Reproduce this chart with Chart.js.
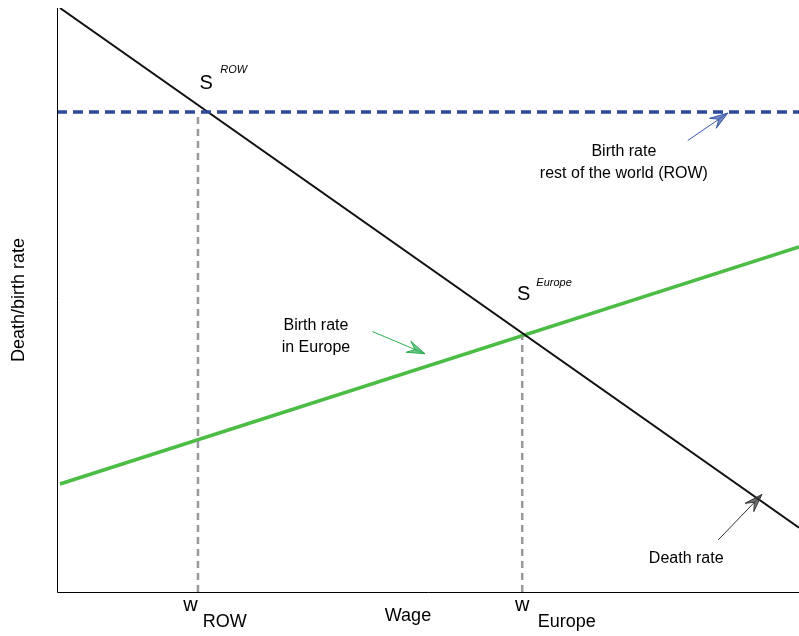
<!DOCTYPE html>
<html><head><meta charset="utf-8">
<script src="https://cdn.jsdelivr.net/npm/chart.js@4"></script>
<style>html,body{margin:0;padding:0;background:#fff}#w{width:799px;height:636px}</style>
</head><body><div id="w"><canvas id="c"></canvas></div>
<script>
const deathRate=[{x:0.04,y:10},{x:10,y:1.1}];
const birthROW=[{x:0,y:8.22},{x:10,y:8.22}];
const birthEurope=[{x:0.04,y:1.85},{x:10,y:5.91}];
const wROW=[{x:1.9,y:0},{x:1.9,y:8.22}];
const wEurope=[{x:6.27,y:0},{x:6.27,y:4.38}];
const F='"Liberation Sans", Arial, sans-serif';
const ann={
 id:'ann',
 afterDraw(ch){
  const c=ch.ctx,xs=ch.scales.x,ys=ch.scales.y,a=ch.chartArea;
  const X=v=>xs.getPixelForValue(v),Y=v=>ys.getPixelForValue(v);
  c.save();
  c.strokeStyle='#000';c.lineWidth=1;
  c.beginPath();c.moveTo(a.left+0.5,a.top);c.lineTo(a.left+0.5,a.bottom+0.5);c.lineTo(a.right,a.bottom+0.5);c.stroke();
  c.fillStyle='#000';c.textBaseline='alphabetic';
  function t(s,x,y,size,align){c.font=size+'px '+F;c.textAlign=align||'left';c.fillText(s,x,y);}
  t('S',X(1.92),Y(8.62),20);
  c.font='italic 11px '+F;c.textAlign='left';c.fillText('ROW',X(2.2),Y(8.88));
  t('S',X(6.2),Y(5.0),20);
  c.font='italic 11px '+F;c.fillText('Europe',X(6.46),Y(5.24));
  t('Birth rate',X(7.64),Y(7.47),16,'center');
  t('rest of the world (ROW)',X(7.64),Y(7.09),16,'center');
  t('Birth rate',X(3.49),Y(4.49),16,'center');
  t('in Europe',X(3.49),Y(4.11),16,'center');
  t('Death rate',X(8.48),Y(0.5),16,'center');
  function arrow(x1,y1,x2,y2,col){
   const px1=X(x1),py1=Y(y1),px2=X(x2),py2=Y(y2);
   const an=Math.atan2(py2-py1,px2-px1),L=18,W=6;
   c.strokeStyle=col;c.lineWidth=1;c.beginPath();c.moveTo(px1,py1);c.lineTo(px2,py2);c.stroke();
   const bx=px2-L*Math.cos(an),by=py2-L*Math.sin(an);
   c.beginPath();c.moveTo(px2,py2);
   c.lineTo(bx+W*Math.sin(an),by-W*Math.cos(an));
   c.lineTo(px2-L*0.6*Math.cos(an),py2-L*0.6*Math.sin(an));
   c.lineTo(bx-W*Math.sin(an),by+W*Math.cos(an));c.closePath();
   c.fillStyle=col;c.globalAlpha=0.7;c.fill();c.globalAlpha=1;c.stroke();
  }
  arrow(8.5,7.73,9.04,8.2,'#3a56a8');
  arrow(4.25,4.46,4.96,4.08,'#2eae52');
  arrow(8.91,0.89,9.5,1.67,'#333');
  c.fillStyle='#000';
  t('w',X(1.8),Y(-0.32),20,'center');
  t('ROW',X(2.26),Y(-0.6),18,'center');
  t('Wage',X(4.73),Y(-0.5),18,'center');
  t('w',X(6.27),Y(-0.32),20,'center');
  t('Europe',X(6.87),Y(-0.6),18,'center');
  c.translate(24,Y(5.0));c.rotate(-Math.PI/2);t('Death/birth rate',0,0,18,'center');
  c.restore();
 }
};
new Chart(document.getElementById('c'),{
 type:'scatter',
 data:{datasets:[
  {data:wROW,showLine:true,borderColor:'#999',borderWidth:2.5,borderDash:[7,5],pointRadius:0},
  {data:wEurope,showLine:true,borderColor:'#999',borderWidth:2.5,borderDash:[7,5],pointRadius:0},
  {data:birthROW,showLine:true,borderColor:'#2b4a9e',borderWidth:3.5,borderDash:[10,6],pointRadius:0},
  {data:deathRate,showLine:true,borderColor:'#111',borderWidth:2,pointRadius:0},
  {data:birthEurope,showLine:true,borderColor:'#4bbd45',borderWidth:3.5,pointRadius:0}
 ]},
 options:{responsive:true,maintainAspectRatio:false,animation:false,
  layout:{padding:{left:57,top:8,right:0,bottom:44}},
  plugins:{legend:{display:false},tooltip:{enabled:false}},
  scales:{x:{type:'linear',min:0,max:10,display:false},y:{min:0,max:10,display:false}}},
 plugins:[ann]
});
</script></body></html>
